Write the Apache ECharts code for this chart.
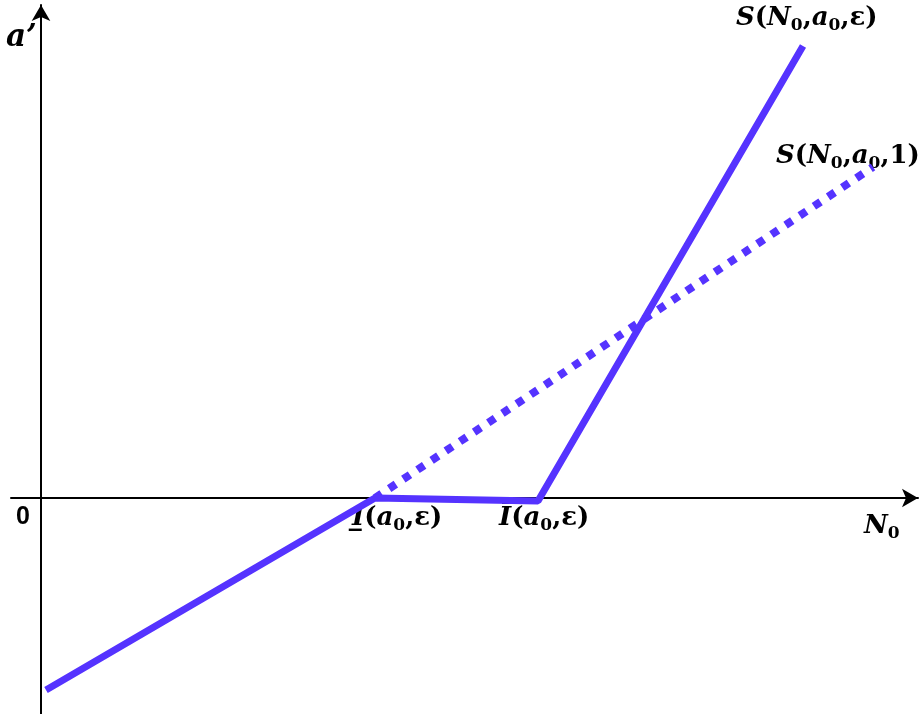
<!DOCTYPE html>
<html>
<head>
<meta charset="utf-8">
<script src="https://cdn.jsdelivr.net/npm/echarts@6/dist/echarts.min.js"></script>
<style>
  html, body { margin: 0; padding: 0; background: #fff; }
  #chart { width: 919px; height: 714px; }
</style>
</head>
<body>
<div id="chart"></div>
<script>
// 折线的关键点 (N0, a')
const solidX = [5, 334, 497, 762]
const solidY = [-192, 0, -3, 452]
const dottedX = [334, 832]
const dottedY = [0, 331]

const lineColor = '#5533ff'
const serif = 'DejaVu Serif'

let chart = echarts.init(document.getElementById('chart'))

// 公式样式
const rich = {
  i: { fontFamily: serif, fontStyle: 'italic', fontWeight: 'bold', fontSize: 26, fill: '#000', lineHeight: 32 },
  p: { fontFamily: serif, fontWeight: 'bold', fontSize: 26, fill: '#000', lineHeight: 32 },
  s: { fontFamily: serif, fontWeight: 'bold', fontSize: 17, fill: '#000', lineHeight: 32, padding: [15, 0, 0, 0] }
}

function label(text, x, y) {
  return { type: 'text', left: x, top: y, style: { text: text, rich: rich, fontSize: 26, fontFamily: serif } }
}

chart.setOption({
  animation: false,
  grid: { left: 11, right: 1, top: 5, bottom: 0 },
  xAxis: {
    type: 'value',
    min: -30,
    max: 877,
    axisLine: { show: true, onZero: true, symbol: ['none', 'arrow'], symbolSize: [14, 16], lineStyle: { color: '#000', width: 2 } },
    axisTick: { show: false },
    axisLabel: { show: false },
    splitLine: { show: false }
  },
  yAxis: {
    type: 'value',
    min: -216,
    max: 493,
    axisLine: { show: true, onZero: true, symbol: ['none', 'arrow'], symbolSize: [14, 16], lineStyle: { color: '#000', width: 2 } },
    axisTick: { show: false },
    axisLabel: { show: false },
    splitLine: { show: false }
  },
  series: [
    {
      type: 'line',
      data: solidX.map((x, i) => [x, solidY[i]]),
      symbol: 'none',
      lineStyle: { color: lineColor, width: 7, cap: 'butt' }
    },
    {
      type: 'line',
      data: dottedX.map((x, i) => [x, dottedY[i]]),
      symbol: 'none',
      z: 1,
      lineStyle: { color: lineColor, width: 8, type: [8, 9], cap: 'butt' }
    }
  ],
  graphic: [
    { type: 'text', left: 6, top: 22, style: { text: 'a\u2019', fontFamily: serif, fontStyle: 'italic', fontWeight: 'bold', fontSize: 31, fill: '#000' } },
    { type: 'text', left: 16, top: 505, style: { text: '0', fontFamily: 'Liberation Sans', fontWeight: 'bold', fontSize: 25, fill: '#000' } },
    label('{i|N}{s|0}', 864, 510),
    label('{i|S}{p|(}{i|N}{s|0}{p|,}{i|a}{s|0}{p|,ε)}', 736, 2),
    label('{i|S}{p|(}{i|N}{s|0}{p|,}{i|a}{s|0}{p|,1)}', 776, 140),
    label('{i|I\u0332}{p|(}{i|a}{s|0}{p|,ε)}', 352, 502),
    label('{i|I}{p|(}{i|a}{s|0}{p|,ε)}', 499, 502),
    // Ī 的上划线
    { type: 'rect', shape: { x: 502, y: 502, width: 13, height: 2 }, style: { fill: '#000' } }
  ]
})
</script>
</body>
</html>
